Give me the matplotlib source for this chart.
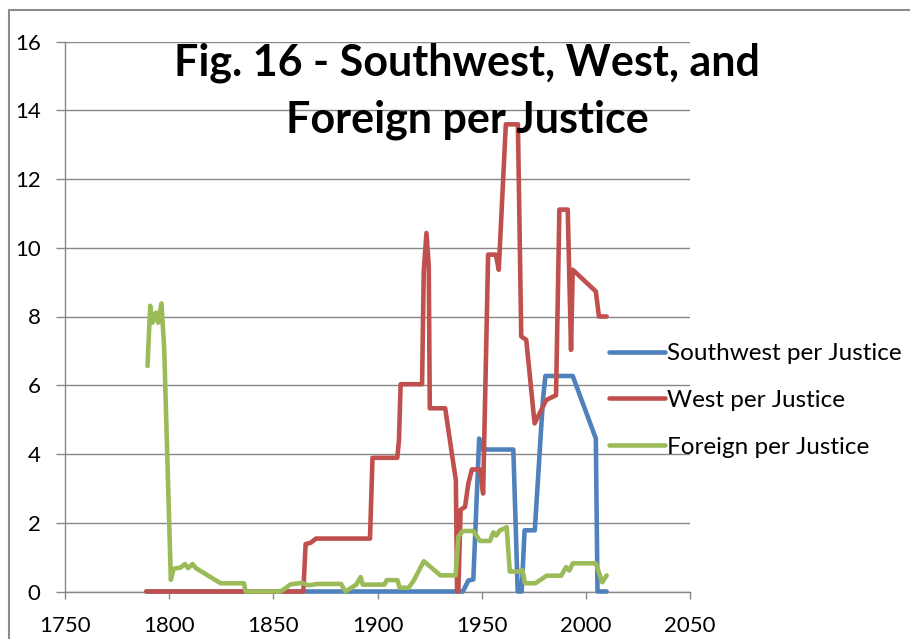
import matplotlib.pyplot as plt
from matplotlib.patches import Rectangle

# Fig. 16 - Southwest, West and Foreign per Justice

sw_years = [1789, 1941, 1943.6, 1946, 1948.8, 1950.5, 1965.2, 1967.3, 1969.2, 1970.6,
            1975.5, 1979.4, 1980.6, 1993.7, 2004.8, 2005.6, 2010]
sw_vals = [0, 0, 0.32, 0.35, 4.45, 4.13, 4.13, 0, 0, 1.78,
           1.78, 5.57, 6.27, 6.27, 4.45, 0, 0]

west_years = [1789, 1864.4, 1865.5, 1868, 1870.5, 1896.4, 1897.6, 1909.5, 1910.3, 1911.1,
              1921.4, 1922.2, 1923.5, 1924.6, 1925.1, 1932.5, 1935.7, 1937.6, 1938.2, 1938.8,
              1939.9, 1942, 1943.6, 1945.3, 1949.2, 1950.7, 1953.1, 1956.8, 1958.2, 1961.6,
              1967.4, 1969, 1971.4, 1975.4, 1981, 1985.7, 1987.3, 1991.3, 1992.9, 1993.7,
              2004.8, 2006.3, 2010]
west_vals = [0, 0, 1.38, 1.42, 1.54, 1.54, 3.89, 3.89, 4.40, 6.03,
             6.03, 9.31, 10.43, 9.46, 5.33, 5.33, 4.01, 3.24, 0, 0,
             2.38, 2.46, 3.14, 3.55, 3.55, 2.85, 9.80, 9.80, 9.36, 13.59,
             13.59, 7.42, 7.32, 4.89, 5.57, 5.71, 11.11, 11.11, 7.03, 9.36,
             8.73, 8.0, 8.0]

foreign_years = [1789.6, 1790.9, 1792, 1793.6, 1794.7, 1796.3, 1797.6, 1800.8, 1802.1, 1805.6,
                 1807.5, 1809.1, 1811.2, 1812.8, 1824.7, 1835.9, 1836.7, 1853.5, 1858.4, 1863.8,
                 1866.9, 1871.1, 1882.5, 1884.6, 1889.8, 1891.9, 1892.9, 1903.3, 1904.4, 1909.6,
                 1910.6, 1915, 1917.5, 1922.2, 1924.6, 1930.2, 1937.5, 1938.8, 1941, 1946,
                 1949.2, 1954, 1955.6, 1957, 1958.6, 1962, 1963.5, 1967.6, 1969.5, 1970.8,
                 1975.8, 1981.2, 1988.2, 1990.5, 1992.1, 1993.7, 2004.8, 2007.9, 2010]
foreign_vals = [6.56, 8.31, 7.82, 8.11, 7.82, 8.38, 7.09, 0.34, 0.66, 0.70,
                0.80, 0.68, 0.80, 0.68, 0.24, 0.24, 0, 0, 0.21, 0.25,
                0.18, 0.22, 0.22, 0, 0.2, 0.42, 0.2, 0.2, 0.33, 0.33,
                0.11, 0.11, 0.33, 0.88, 0.76, 0.47, 0.47, 1.60, 1.76, 1.76,
                1.47, 1.47, 1.72, 1.63, 1.77, 1.87, 0.58, 0.58, 0.63, 0.24,
                0.24, 0.46, 0.46, 0.71, 0.61, 0.82, 0.82, 0.27, 0.47]

plt.rcParams['font.family'] = ['Lato', 'DejaVu Sans']

fig = plt.figure(figsize=(9.1, 6.39), dpi=100)
ax = fig.add_axes([65 / 910, 47.5 / 639, 625 / 910, 550 / 639])

grey = '#878787'
lw = 3.3
ax.plot(sw_years, sw_vals, color='#4F81BD', lw=lw, label='Southwest per Justice',
        solid_capstyle='round', solid_joinstyle='round', clip_on=False, zorder=3)
ax.plot(west_years, west_vals, color='#C0504D', lw=lw, label='West per Justice',
        solid_capstyle='round', solid_joinstyle='round', clip_on=False, zorder=4)
ax.plot(foreign_years, foreign_vals, color='#9BBB59', lw=lw, label='Foreign per Justice',
        solid_capstyle='round', solid_joinstyle='round', clip_on=False, zorder=5)

ax.set_xlim(1750, 2050)
ax.set_ylim(0, 16)
ax.set_xticks(range(1750, 2051, 50))
ax.set_yticks(range(0, 17, 2))
ax.yaxis.grid(True, color=grey, lw=1.0)
ax.set_axisbelow(True)

for s in ['top', 'right']:
    ax.spines[s].set_visible(False)
for s in ['left', 'bottom']:
    ax.spines[s].set_color(grey)
    ax.spines[s].set_linewidth(1.0)

ax.tick_params(axis='y', length=6.5, color=grey, width=1.0, pad=11, labelsize=16)
ax.tick_params(axis='x', length=5, color=grey, width=1.0, pad=13, labelsize=16)

# legend sits to the right, partly outside the plot
ax.legend(loc='upper left', bbox_to_anchor=(597 / 910, 1 - 331 / 639),
          bbox_transform=fig.transFigure, frameon=False, fontsize=17.5,
          handlelength=2.3, handletextpad=0.1, labelspacing=1.06, borderpad=0)

fig.text(467 / 910, 1 - 132 / 639, 'Fig. 16 - Southwest, West, and\nForeign per Justice',
         ha='center', va='baseline', multialignment='center', fontsize=31,
         fontweight='bold', linespacing=1.49)

# outer chart border
fig.patches.append(Rectangle((9 / 910, -0.1), 1.2, 1.1 - 10 / 639, transform=fig.transFigure,
                             fill=False, edgecolor='#8c8c8c', lw=1.5))

fig.savefig('out.png', dpi=100)
